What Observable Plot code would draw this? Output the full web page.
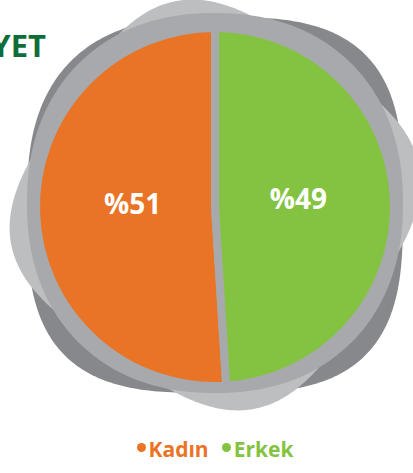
<!DOCTYPE html>
<html>
<head>
<meta charset="utf-8">
<script src="https://cdn.jsdelivr.net/npm/d3@7"></script>
<script src="https://cdn.jsdelivr.net/npm/@observablehq/plot@0.6"></script>
<style>
  html, body { margin: 0; padding: 0; background: #fff; }
  body { width: 413px; height: 473px; overflow: hidden; font-family: "Open Sans", sans-serif; }
  #legend { display: flex; justify-content: center; align-items: flex-start; height: 43px;
            padding-left: 17px; box-sizing: border-box; padding-top: 5px; }
  .item { display: flex; align-items: flex-start; font-weight: 700; font-size: 21px; line-height: 28px; }
  .item + .item { margin-left: 13px; }
  .dot { width: 9px; height: 9px; border-radius: 50%; margin-top: 8px; margin-right: 3px; }
</style>
</head>
<body>
<div id="chart"></div>
<script>
// ---- data ----
const categories = ["Kadın", "Erkek"];
const shares = [51, 49];
const labels = ["%51", "%49"];
const colors = ["#e97425", "#84c341"];
const title = "CİNSİYET";

// ---- layout constants ----
const W = 413, H = 430;
const CX = 215, CY = 207, R = 175;
const RING = "#a7a9ac";

const data = categories.map((c, i) => ({category: c, share: shares[i], label: labels[i], color: colors[i]}));
const total = d3.sum(data, d => d.share);
const start = -2 * Math.PI * data[0].share / total;
const pie = d3.pie().sort(null).value(d => d.share).startAngle(start).endAngle(start + 2 * Math.PI);
const arcs = pie(data);
const labelArc = d3.arc().innerRadius(83).outerRadius(83);
const labelData = arcs.map(a => {
  const [x, y] = labelArc.centroid(a);
  return {label: a.data.label, x: CX + x, y: CY + y};
});

// decorative rounded-square backdrop; exps = exponent per quadrant [TR, BR, BL, TL]
function superShape(cx, cy, a, b, exps, rotDeg) {
  const r = rotDeg * Math.PI / 180;
  const pts = d3.range(0, 360, 1).map(deg => {
    const t = deg * Math.PI / 180, c = Math.cos(t), s = Math.sin(t);
    const q = c >= 0 ? (s >= 0 ? 0 : 1) : (s >= 0 ? 3 : 2);
    const n = exps[q];
    const x = a * Math.sign(c) * Math.pow(Math.abs(c), 2 / n);
    const y = b * Math.sign(s) * Math.pow(Math.abs(s), 2 / n);
    return [cx + x * Math.cos(r) - y * Math.sin(r), cy - (x * Math.sin(r) + y * Math.cos(r))];
  });
  return d3.line().curve(d3.curveLinearClosed)(pts);
}

function pieMark() {
  const g = d3.create("svg:g");
  g.append("path").attr("d", superShape(215, 205, 188, 188, [3.1, 3.1, 3.1, 2.6], 0)).attr("fill", "#86888b");
  g.append("path").attr("d", superShape(215, 205, 180, 180, [3.4, 3.4, 3.4, 3.4], -34)).attr("fill", "#bcbec0");
  g.append("path").attr("d", superShape(215, 203, 188, 190, [2.2, 2.2, 2.2, 2.2], 0)).attr("fill", RING);
  const arc = d3.arc().innerRadius(0).outerRadius(R + 4);
  g.append("g").attr("transform", `translate(${CX},${CY})`)
    .selectAll("path").data(arcs).join("path")
    .attr("d", arc)
    .attr("fill", d => d.data.color)
    .attr("stroke", RING).attr("stroke-width", 8).attr("stroke-linejoin", "round");
  // title (cut off at the left edge, as in the reference)
  g.append("text").attr("x", 46).attr("y", 57).attr("text-anchor", "end")
    .attr("fill", "#0f6e38").attr("font-size", 31).attr("font-weight", 700)
    .attr("font-family", "Open Sans, sans-serif").text(title);
  return g.node();
}

const chart = Plot.plot({
  width: W, height: H,
  margin: 0,
  x: {type: "identity", axis: null},
  y: {type: "identity", axis: null},
  style: {background: "transparent", overflow: "visible"},
  marks: [
    pieMark,
    Plot.text(labelData, {
      x: "x", y: "y", text: "label", dy: -5,
      fill: "white", fontSize: 28, fontWeight: 700, fontFamily: "Open Sans, sans-serif"
    })
  ]
});
document.getElementById("chart").appendChild(chart);

const legend = d3.select("body").append("div").attr("id", "legend");
const items = legend.selectAll(".item").data(data).join("div").attr("class", "item")
  .style("color", d => d.color);
items.append("span").attr("class", "dot").style("background", d => d.color);
items.append("span").text(d => d.category);
</script>
</body>
</html>
